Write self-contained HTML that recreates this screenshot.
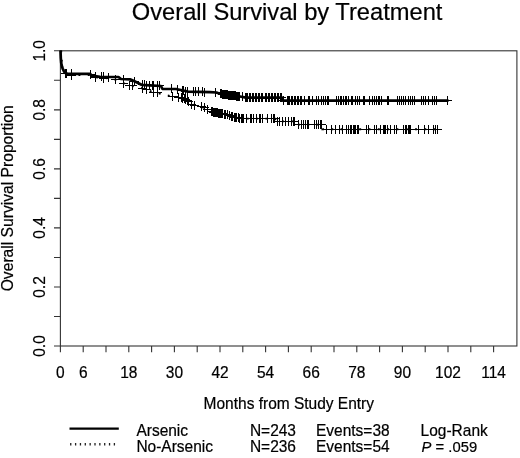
<!DOCTYPE html>
<html><head><meta charset="utf-8"><title>Overall Survival by Treatment</title>
<style>html,body{margin:0;padding:0;background:#fff;}body{width:520px;height:458px;position:relative;overflow:hidden;}</style>
</head><body>
<svg width="520" height="458" viewBox="0 0 520 458" style="display:block;position:absolute;left:0;top:0">
<rect width="520" height="458" fill="#fff"/>
<rect x="60.4" y="50.8" width="456.5" height="295.2" fill="none" stroke="#333" stroke-width="1.1"/>
<path d="M60.4,346.00H54.0M60.4,316.48H54.0M60.4,286.96H54.0M60.4,257.44H54.0M60.4,227.92H54.0M60.4,198.40H54.0M60.4,168.88H54.0M60.4,139.36H54.0M60.4,109.84H54.0M60.4,80.32H54.0M60.4,50.80H54.0M60.40,346V352.3M83.20,346V352.3M106.00,346V352.3M128.80,346V352.3M151.60,346V352.3M174.40,346V352.3M197.20,346V352.3M220.00,346V352.3M242.80,346V352.3M265.60,346V352.3M288.40,346V352.3M311.20,346V352.3M334.00,346V352.3M356.80,346V352.3M379.60,346V352.3M402.40,346V352.3M425.20,346V352.3M448.00,346V352.3M470.80,346V352.3M493.60,346V352.3" stroke="#333" stroke-width="1.1" fill="none"/>
<path d="M61.2,50.5 L61.5,58.0 L62.0,63.0 L62.8,66.5 L63.6,69.5 L64.8,72.5 L66.0,74.3 L68.0,75.0 L90.0,75.0 L91.3,76.8 L100.0,77.8 L110.0,78.5 L117.0,80.0 L123.0,83.0 L129.0,85.0 L137.0,87.0 L145.0,89.0 L152.5,92.0 L158.0,93.0 L165.0,95.0 L172.5,96.5 L178.0,97.0 L184.0,98.5 L188.0,101.0 L191.0,104.0 L196.0,105.5 L201.0,106.5 L207.0,109.0 L211.0,111.5 L220.0,113.5 L228.0,115.0 L236.0,117.5 L243.0,118.6 L275.0,118.6 L276.0,121.4 L296.3,121.4 L297.0,124.6 L321.5,124.6 L322.2,129.2 L442.0,129.2" stroke="#000" stroke-width="1.9" stroke-dasharray="1.9 7.4" fill="none"/>
<path d="M65.5,69.0V78.0M61.0,73.5H70.0M71.5,71.0V80.0M67.0,75.5H76.0M95.5,73.0V82.0M91.0,77.5H100.0M103.5,74.0V83.0M99.0,78.5H108.0M115.5,75.0V84.0M111.0,79.5H120.0M123.5,79.0V88.0M119.0,83.5H128.0M129.5,81.0V90.0M125.0,85.5H134.0M132.5,81.0V90.0M128.0,85.5H137.0M142.5,84.0V93.0M138.0,88.5H147.0M146.5,85.0V94.0M142.0,89.5H151.0M153.5,88.0V97.0M149.0,92.5H158.0M157.5,88.0V97.0M153.0,92.5H162.0M172.5,92.0V101.0M168.0,96.5H177.0M178.5,93.0V102.0M174.0,97.5H183.0M181.5,93.0V102.0M177.0,97.5H186.0M182.5,94.0V103.0M178.0,98.5H187.0M184.5,94.0V103.0M180.0,98.5H189.0M185.5,95.0V104.0M181.0,99.5H190.0M187.5,96.0V105.0M183.0,100.5H192.0M188.5,97.0V106.0M184.0,101.5H193.0M191.5,100.0V109.0M187.0,104.5H196.0M194.5,101.0V110.0M190.0,105.5H199.0M201.5,102.0V111.0M197.0,106.5H206.0M204.5,103.0V112.0M200.0,107.5H209.0M207.5,105.0V114.0M203.0,109.5H212.0M211.5,107.0V116.0M207.0,111.5H216.0M212.5,107.0V116.0M208.0,111.5H217.0M213.5,108.0V117.0M209.0,112.5H218.0M214.5,108.0V117.0M210.0,112.5H219.0M215.5,108.0V117.0M211.0,112.5H220.0M216.5,108.0V117.0M212.0,112.5H221.0M217.5,108.0V117.0M213.0,112.5H222.0M218.5,109.0V118.0M214.0,113.5H223.0M219.5,109.0V118.0M215.0,113.5H224.0M220.5,109.0V118.0M216.0,113.5H225.0M221.5,109.0V118.0M217.0,113.5H226.0M222.5,109.0V118.0M218.0,113.5H227.0M224.5,110.0V119.0M220.0,114.5H229.0M225.5,110.0V119.0M221.0,114.5H230.0M227.5,110.0V119.0M223.0,114.5H232.0M229.5,111.0V120.0M225.0,115.5H234.0M231.5,112.0V121.0M227.0,116.5H236.0M232.5,112.0V121.0M228.0,116.5H237.0M234.5,113.0V122.0M230.0,117.5H239.0M235.5,113.0V122.0M231.0,117.5H240.0M236.5,113.0V122.0M232.0,117.5H241.0M238.5,113.0V122.0M234.0,117.5H243.0M239.5,114.0V123.0M235.0,118.5H244.0M241.5,114.0V123.0M237.0,118.5H246.0M242.5,114.0V123.0M238.0,118.5H247.0M243.5,114.0V123.0M239.0,118.5H248.0M246.5,114.0V123.0M242.0,118.5H251.0M250.5,114.0V123.0M246.0,118.5H255.0M251.5,114.0V123.0M247.0,118.5H256.0M253.5,114.0V123.0M249.0,118.5H258.0M256.5,114.0V123.0M252.0,118.5H261.0M259.5,114.0V123.0M255.0,118.5H264.0M260.5,114.0V123.0M256.0,118.5H265.0M262.5,114.0V123.0M258.0,118.5H267.0M267.5,114.0V123.0M263.0,118.5H272.0M271.5,114.0V123.0M267.0,118.5H276.0M273.5,114.0V123.0M269.0,118.5H278.0M274.5,114.0V123.0M270.0,118.5H279.0M277.5,117.0V126.0M273.0,121.5H282.0M279.5,117.0V126.0M275.0,121.5H284.0M282.5,117.0V126.0M278.0,121.5H287.0M285.5,117.0V126.0M281.0,121.5H290.0M288.5,117.0V126.0M284.0,121.5H293.0M291.5,117.0V126.0M287.0,121.5H296.0M293.5,117.0V126.0M289.0,121.5H298.0M294.5,117.0V126.0M290.0,121.5H299.0M298.5,120.0V129.0M294.0,124.5H303.0M301.5,120.0V129.0M297.0,124.5H306.0M303.5,120.0V129.0M299.0,124.5H308.0M305.5,120.0V129.0M301.0,124.5H310.0M307.5,120.0V129.0M303.0,124.5H312.0M308.5,120.0V129.0M304.0,124.5H313.0M314.5,120.0V129.0M310.0,124.5H319.0M316.5,120.0V129.0M312.0,124.5H321.0M318.5,120.0V129.0M314.0,124.5H323.0M320.5,120.0V129.0M316.0,124.5H325.0M321.5,120.0V129.0M317.0,124.5H326.0M326.5,125.0V134.0M322.0,129.5H331.0M331.5,125.0V134.0M327.0,129.5H336.0M335.5,125.0V134.0M331.0,129.5H340.0M339.5,125.0V134.0M335.0,129.5H344.0M342.5,125.0V134.0M338.0,129.5H347.0M346.5,125.0V134.0M342.0,129.5H351.0M348.5,125.0V134.0M344.0,129.5H353.0M350.5,125.0V134.0M346.0,129.5H355.0M351.5,125.0V134.0M347.0,129.5H356.0M353.5,125.0V134.0M349.0,129.5H358.0M354.5,125.0V134.0M350.0,129.5H359.0M355.5,125.0V134.0M351.0,129.5H360.0M357.5,125.0V134.0M353.0,129.5H362.0M358.5,125.0V134.0M354.0,129.5H363.0M366.5,125.0V134.0M362.0,129.5H371.0M368.5,125.0V134.0M364.0,129.5H373.0M374.5,125.0V134.0M370.0,129.5H379.0M376.5,125.0V134.0M372.0,129.5H381.0M380.5,125.0V134.0M376.0,129.5H385.0M383.5,125.0V134.0M379.0,129.5H388.0M384.5,125.0V134.0M380.0,129.5H389.0M385.5,125.0V134.0M381.0,129.5H390.0M387.5,125.0V134.0M383.0,129.5H392.0M390.5,125.0V134.0M386.0,129.5H395.0M394.5,125.0V134.0M390.0,129.5H399.0M396.5,125.0V134.0M392.0,129.5H401.0M403.5,125.0V134.0M399.0,129.5H408.0M405.5,125.0V134.0M401.0,129.5H410.0M406.5,125.0V134.0M402.0,129.5H411.0M408.5,125.0V134.0M404.0,129.5H413.0M409.5,125.0V134.0M405.0,129.5H414.0M410.5,125.0V134.0M406.0,129.5H415.0M418.5,125.0V134.0M414.0,129.5H423.0M424.5,125.0V134.0M420.0,129.5H429.0M428.5,125.0V134.0M424.0,129.5H433.0M433.5,125.0V134.0M429.0,129.5H438.0M435.5,125.0V134.0M431.0,129.5H440.0M437.5,125.0V134.0M433.0,129.5H442.0" stroke="#000" stroke-width="1" fill="none"/>
<path d="M66.5,69.0V78.0M62.0,73.5H71.0M71.5,69.0V78.0M67.0,73.5H76.0M90.5,70.0V79.0M86.0,74.5H95.0M95.5,72.0V81.0M91.0,76.5H100.0M101.5,72.0V81.0M97.0,76.5H106.0M103.5,72.0V81.0M99.0,76.5H108.0M108.5,73.0V82.0M104.0,77.5H113.0M123.5,75.0V84.0M119.0,79.5H128.0M134.5,77.0V86.0M130.0,81.5H139.0M142.5,80.0V89.0M138.0,84.5H147.0M144.5,80.0V89.0M140.0,84.5H149.0M146.5,81.0V90.0M142.0,85.5H151.0M149.5,81.0V90.0M145.0,85.5H154.0M152.5,81.0V90.0M148.0,85.5H157.0M153.5,81.0V90.0M149.0,85.5H158.0M157.5,81.0V90.0M153.0,85.5H162.0M159.5,81.0V90.0M155.0,85.5H164.0M171.5,84.0V93.0M167.0,88.5H176.0M177.5,85.0V94.0M173.0,89.5H182.0M182.5,86.0V95.0M178.0,90.5H187.0M183.5,86.0V95.0M179.0,90.5H188.0M185.5,87.0V96.0M181.0,91.5H190.0M187.5,87.0V96.0M183.0,91.5H192.0M193.5,87.0V96.0M189.0,91.5H198.0M195.5,87.0V96.0M191.0,91.5H200.0M198.5,87.0V96.0M194.0,91.5H203.0M202.5,87.0V96.0M198.0,91.5H207.0M204.5,88.0V97.0M200.0,92.5H209.0M215.5,88.0V97.0M211.0,92.5H220.0M220.5,89.0V98.0M216.0,93.5H225.0M221.5,89.0V98.0M217.0,93.5H226.0M222.5,90.0V99.0M218.0,94.5H227.0M223.5,90.0V99.0M219.0,94.5H228.0M224.5,90.0V99.0M220.0,94.5H229.0M225.5,90.0V99.0M221.0,94.5H230.0M226.5,90.0V99.0M222.0,94.5H231.0M227.5,90.0V99.0M223.0,94.5H232.0M228.5,91.0V100.0M224.0,95.5H233.0M229.5,91.0V100.0M225.0,95.5H234.0M230.5,91.0V100.0M226.0,95.5H235.0M231.5,91.0V100.0M227.0,95.5H236.0M232.5,91.0V100.0M228.0,95.5H237.0M233.5,91.0V100.0M229.0,95.5H238.0M234.5,91.0V100.0M230.0,95.5H239.0M235.5,91.0V100.0M231.0,95.5H240.0M236.5,92.0V101.0M232.0,96.5H241.0M237.5,92.0V101.0M233.0,96.5H242.0M238.5,92.0V101.0M234.0,96.5H243.0M239.5,92.0V101.0M235.0,96.5H244.0M242.5,92.0V101.0M238.0,96.5H247.0M245.5,93.0V102.0M241.0,97.5H250.0M246.5,93.0V102.0M242.0,97.5H251.0M247.5,93.0V102.0M243.0,97.5H252.0M249.5,93.0V102.0M245.0,97.5H254.0M250.5,93.0V102.0M246.0,97.5H255.0M252.5,93.0V102.0M248.0,97.5H257.0M253.5,93.0V102.0M249.0,97.5H258.0M255.5,93.0V102.0M251.0,97.5H260.0M256.5,93.0V102.0M252.0,97.5H261.0M258.5,93.0V102.0M254.0,97.5H263.0M259.5,93.0V102.0M255.0,97.5H264.0M261.5,93.0V102.0M257.0,97.5H266.0M262.5,93.0V102.0M258.0,97.5H267.0M265.5,93.0V102.0M261.0,97.5H270.0M266.5,93.0V102.0M262.0,97.5H271.0M268.5,93.0V102.0M264.0,97.5H273.0M269.5,93.0V102.0M265.0,97.5H274.0M271.5,93.0V102.0M267.0,97.5H276.0M272.5,93.0V102.0M268.0,97.5H277.0M274.5,93.0V102.0M270.0,97.5H279.0M275.5,93.0V102.0M271.0,97.5H280.0M277.5,93.0V102.0M273.0,97.5H282.0M278.5,93.0V102.0M274.0,97.5H283.0M280.5,93.0V102.0M276.0,97.5H285.0M281.5,93.0V102.0M277.0,97.5H286.0M283.5,96.0V105.0M279.0,100.5H288.0M287.5,96.0V105.0M283.0,100.5H292.0M288.5,96.0V105.0M284.0,100.5H293.0M289.5,96.0V105.0M285.0,100.5H294.0M291.5,96.0V105.0M287.0,100.5H296.0M292.5,96.0V105.0M288.0,100.5H297.0M294.5,96.0V105.0M290.0,100.5H299.0M295.5,96.0V105.0M291.0,100.5H300.0M297.5,96.0V105.0M293.0,100.5H302.0M298.5,96.0V105.0M294.0,100.5H303.0M300.5,96.0V105.0M296.0,100.5H305.0M301.5,96.0V105.0M297.0,100.5H306.0M304.5,96.0V105.0M300.0,100.5H309.0M308.5,96.0V105.0M304.0,100.5H313.0M309.5,96.0V105.0M305.0,100.5H314.0M312.5,96.0V105.0M308.0,100.5H317.0M316.5,96.0V105.0M312.0,100.5H321.0M318.5,96.0V105.0M314.0,100.5H323.0M321.5,96.0V105.0M317.0,100.5H326.0M323.5,96.0V105.0M319.0,100.5H328.0M325.5,96.0V105.0M321.0,100.5H330.0M327.5,96.0V105.0M323.0,100.5H332.0M328.5,96.0V105.0M324.0,100.5H333.0M336.5,96.0V105.0M332.0,100.5H341.0M338.5,96.0V105.0M334.0,100.5H343.0M340.5,96.0V105.0M336.0,100.5H345.0M341.5,96.0V105.0M337.0,100.5H346.0M343.5,96.0V105.0M339.0,100.5H348.0M345.5,96.0V105.0M341.0,100.5H350.0M346.5,96.0V105.0M342.0,100.5H351.0M348.5,96.0V105.0M344.0,100.5H353.0M351.5,96.0V105.0M347.0,100.5H356.0M352.5,96.0V105.0M348.0,100.5H357.0M355.5,96.0V105.0M351.0,100.5H360.0M357.5,96.0V105.0M353.0,100.5H362.0M359.5,96.0V105.0M355.0,100.5H364.0M363.5,96.0V105.0M359.0,100.5H368.0M364.5,96.0V105.0M360.0,100.5H369.0M369.5,96.0V105.0M365.0,100.5H374.0M372.5,96.0V105.0M368.0,100.5H377.0M374.5,96.0V105.0M370.0,100.5H379.0M376.5,96.0V105.0M372.0,100.5H381.0M378.5,96.0V105.0M374.0,100.5H383.0M379.5,96.0V105.0M375.0,100.5H384.0M381.5,96.0V105.0M377.0,100.5H386.0M387.5,96.0V105.0M383.0,100.5H392.0M388.5,96.0V105.0M384.0,100.5H393.0M397.5,96.0V105.0M393.0,100.5H402.0M399.5,96.0V105.0M395.0,100.5H404.0M401.5,96.0V105.0M397.0,100.5H406.0M403.5,96.0V105.0M399.0,100.5H408.0M405.5,96.0V105.0M401.0,100.5H410.0M408.5,96.0V105.0M404.0,100.5H413.0M410.5,96.0V105.0M406.0,100.5H415.0M412.5,96.0V105.0M408.0,100.5H417.0M414.5,96.0V105.0M410.0,100.5H419.0M421.5,96.0V105.0M417.0,100.5H426.0M423.5,96.0V105.0M419.0,100.5H428.0M425.5,96.0V105.0M421.0,100.5H430.0M428.5,96.0V105.0M424.0,100.5H433.0M432.5,96.0V105.0M428.0,100.5H437.0M434.5,96.0V105.0M430.0,100.5H439.0M436.5,96.0V105.0M432.0,100.5H441.0M447.5,96.0V105.0M443.0,100.5H452.0" stroke="#000" stroke-width="1" fill="none"/>
<path d="M60.5,50.5 L60.8,58.0 L61.2,63.0 L62.0,66.5 L62.8,69.0 L64.0,71.5 L65.5,73.0 L67.5,73.8 L90.3,73.8 L91.3,75.8 L95.0,76.2 L100.0,76.8 L108.0,77.0 L118.5,77.0 L121.0,79.0 L130.0,79.3 L134.0,81.0 L138.0,83.0 L141.5,84.8 L150.0,85.3 L161.0,86.0 L162.3,88.8 L176.0,89.0 L182.0,90.3 L188.0,91.6 L210.0,92.2 L216.5,92.5 L219.0,93.5 L225.0,94.5 L232.0,95.5 L240.0,96.5 L246.0,97.6 L282.2,97.7 L283.2,100.7 L448.5,100.7" stroke="#000" stroke-width="2.7" stroke-linejoin="round" fill="none"/>
<path d="M69.5,428.7H118.8" stroke="#000" stroke-width="2.3"/>
<path d="M70.1,444.3H115.2" stroke="#222" stroke-width="2.5" stroke-dasharray="1.3 3.55"/>
<g font-family='"Liberation Sans", Arial, Helvetica, sans-serif' fill="#000" stroke="#000" stroke-width="0.2">
<text transform="translate(287.1,20) scale(1,1.04)" font-size="23.7" text-anchor="middle">Overall Survival by Treatment</text>
<text transform="translate(13.3,198.3) rotate(-90) scale(1,1.03)" font-size="15.65" text-anchor="middle">Overall Survival Proportion</text>
<text transform="translate(44.8,346.0) rotate(-90) scale(1,1.03)" font-size="15.5" text-anchor="middle">0.0</text>
<text transform="translate(44.8,287.0) rotate(-90) scale(1,1.03)" font-size="15.5" text-anchor="middle">0.2</text>
<text transform="translate(44.8,227.9) rotate(-90) scale(1,1.03)" font-size="15.5" text-anchor="middle">0.4</text>
<text transform="translate(44.8,168.9) rotate(-90) scale(1,1.03)" font-size="15.5" text-anchor="middle">0.6</text>
<text transform="translate(44.8,109.8) rotate(-90) scale(1,1.03)" font-size="15.5" text-anchor="middle">0.8</text>
<text transform="translate(44.8,50.8) rotate(-90) scale(1,1.03)" font-size="15.5" text-anchor="middle">1.0</text>
<text transform="translate(60.4,377.6) scale(1,1.03)" font-size="15.5" text-anchor="middle">0</text>
<text transform="translate(83.2,377.6) scale(1,1.03)" font-size="15.5" text-anchor="middle">6</text>
<text transform="translate(128.8,377.6) scale(1,1.03)" font-size="15.5" text-anchor="middle">18</text>
<text transform="translate(174.4,377.6) scale(1,1.03)" font-size="15.5" text-anchor="middle">30</text>
<text transform="translate(220.0,377.6) scale(1,1.03)" font-size="15.5" text-anchor="middle">42</text>
<text transform="translate(265.6,377.6) scale(1,1.03)" font-size="15.5" text-anchor="middle">54</text>
<text transform="translate(311.2,377.6) scale(1,1.03)" font-size="15.5" text-anchor="middle">66</text>
<text transform="translate(356.8,377.6) scale(1,1.03)" font-size="15.5" text-anchor="middle">78</text>
<text transform="translate(402.4,377.6) scale(1,1.03)" font-size="15.5" text-anchor="middle">90</text>
<text transform="translate(448.0,377.6) scale(1,1.03)" font-size="15.5" text-anchor="middle">102</text>
<text transform="translate(493.6,377.6) scale(1,1.03)" font-size="15.5" text-anchor="middle">114</text>
<text transform="translate(288.8,408.5) scale(1,1.03)" font-size="15.5" text-anchor="middle">Months from Study Entry</text>
<text transform="translate(136.4,436.3) scale(1,1.03)" font-size="15.5">Arsenic</text>
<text transform="translate(249.9,436.3) scale(1,1.03)" font-size="15.5">N=243</text>
<text transform="translate(316,436.3) scale(1,1.03)" font-size="15.5">Events=38</text>
<text transform="translate(420.6,436.3) scale(1,1.03)" font-size="15.5">Log-Rank</text>
<text transform="translate(136.4,451.6) scale(1,1.03)" font-size="15.5">No-Arsenic</text>
<text transform="translate(249.9,451.6) scale(1,1.03)" font-size="15.5">N=236</text>
<text transform="translate(316,451.6) scale(1,1.03)" font-size="15.5">Events=54</text>
<text transform="translate(421.6,451.6) scale(1,1.03)" font-size="14.8"><tspan font-style="italic">P</tspan> = .059</text>
</g></svg>
</body></html>
